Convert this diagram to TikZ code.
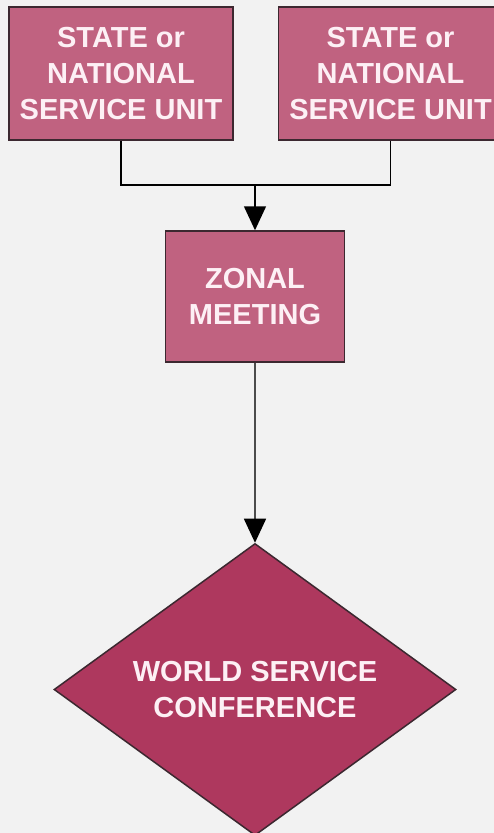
\documentclass[tikz,border=0pt]{standalone}
\usepackage{fontspec}
\setmainfont{Liberation Sans}
\usepackage{xcolor}
\usepackage{tikz}
\usetikzlibrary{shapes.geometric,positioning,arrows.meta}

\definecolor{bgcol}{RGB}{242,242,242}
\definecolor{boxcol}{RGB}{192,98,128}
\definecolor{diacol}{RGB}{174,56,94}
\definecolor{edgecol}{RGB}{60,40,48}
\definecolor{txtcol}{RGB}{253,240,245}

\tikzset{
    unitbox/.style={draw=edgecol, line width=1.5pt, fill=boxcol,
        text=txtcol, align=center, inner sep=0},
    link/.style={line width=1.5pt},
    tip/.style={-{Triangle[length=24pt,width=22pt,color=black]}}
}

\begin{document}
\begin{tikzpicture}[x=1pt,y=-1pt,font=\bfseries\fontsize{29}{36}\selectfont]

\fill[bgcol] (0,0) rectangle (494,833);
\useasboundingbox (0,0) rectangle (494,833);

% State or national units
\node[unitbox,
    minimum width=224pt,
    minimum height=133pt] (unit1) at (121,73.5) {STATE or\\NATIONAL\\SERVICE UNIT};

\node[unitbox,
    right=44pt of unit1,
    minimum width=224pt,
    minimum height=133pt] (unit2) {STATE or\\NATIONAL\\SERVICE UNIT};

% Zonal meeting
\node[unitbox,
    minimum width=179pt,
    minimum height=131pt] (zonal) at (255,296.5) {ZONAL\\MEETING};

% World service conference
\node[unitbox,
    diamond,
    fill=diacol,
    aspect=1.377,
    below=180pt of zonal,
    minimum width=402pt,
    minimum height=292pt] (wsc) {WORLD SERVICE\\CONFERENCE};

% Arrows
\coordinate (join) at (255,185);
\draw[link] (unit1.south) |- (join);
\draw[link] (unit2.south) |- (join);
\draw[link,tip] (join) -- (zonal.north);
\draw[link,draw=black!70,tip] (zonal) -- (wsc);

\end{tikzpicture}
\end{document}
